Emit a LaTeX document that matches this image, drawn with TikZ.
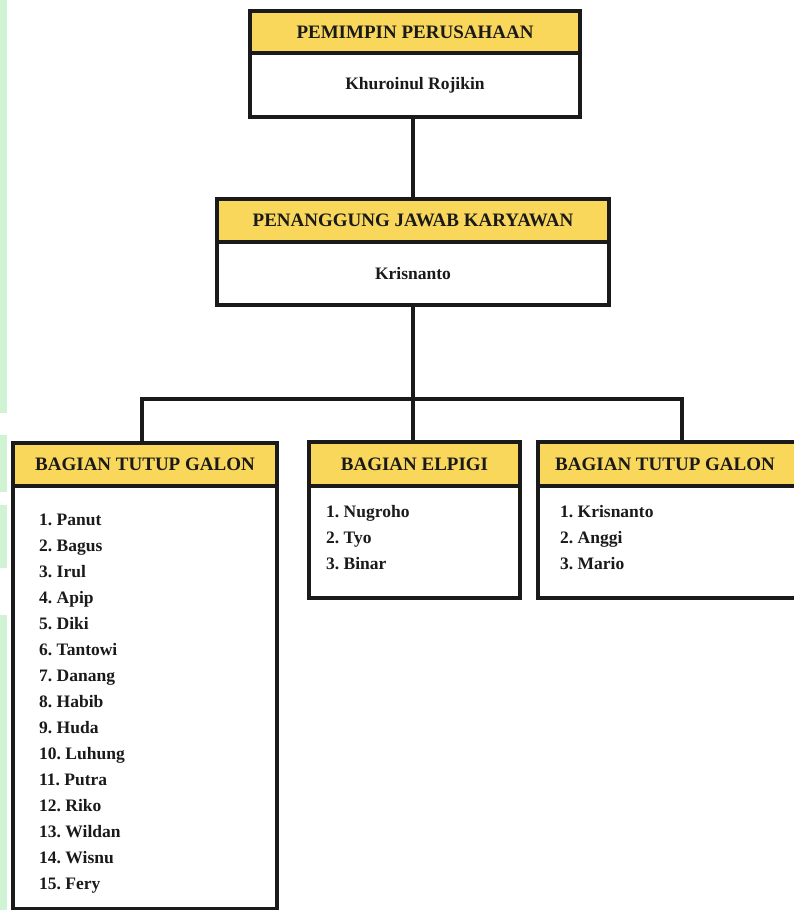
\documentclass[tikz,border=0pt]{standalone}
\usepackage{fontspec}
\setmainfont{Liberation Serif}[BoldFont={Liberation Serif Bold}]
\frenchspacing
\definecolor{hdryellow}{HTML}{F9D75B}
\definecolor{stripgreen}{HTML}{CFF3D3}
\definecolor{inkdark}{HTML}{1A1A1A}
\begin{document}
\begin{tikzpicture}[x=1pt,y=-1pt,
  boxline/.style={draw=inkdark,line width=3.4pt},
  hdr/.style={boxline,fill=hdryellow,rectangle,inner sep=0pt,text=inkdark,
    font=\fontsize{19}{22}\selectfont\bfseries},
  bodybox/.style={boxline,fill=white,rectangle,inner sep=0pt,text=inkdark,
    font=\fontsize{17.5}{22}\selectfont\bfseries},
  listtext/.style={anchor=north west,inner sep=0pt,align=left,text=inkdark,
    font=\fontsize{17.5}{26}\selectfont\bfseries},
  conn/.style={draw=inkdark,line width=3.4pt}]
\useasboundingbox (0,0) rectangle (793,910);
\fill[white] (0,0) rectangle (793,910);
% left green strip
\fill[stripgreen] (0,0) rectangle (7,413);
\fill[stripgreen] (0,435) rectangle (7,492);
\fill[stripgreen] (0,505) rectangle (7,568);
\fill[stripgreen] (0,615) rectangle (7,910);

% top box
\node[hdr,minimum width=330pt,minimum height=42pt] (h1) at (415,32) {PEMIMPIN PERUSAHAAN};
\node[bodybox,minimum width=330pt,minimum height=64pt] (b1) at (415,85) {Khuroinul Rojikin};
% second box
\node[hdr,minimum width=392pt,minimum height=43pt] (h2) at (413,220.5) {PENANGGUNG JAWAB KARYAWAN};
\node[bodybox,minimum width=392pt,minimum height=63pt] (b2) at (413,273.5) {Krisnanto};

% left box
\node[bodybox,minimum width=264pt,minimum height=423pt] (b3) at (145,697.5) {};
\node[hdr,minimum width=264pt,minimum height=43pt] (h3) at (145,464.5) {BAGIAN TUTUP GALON};
\node[listtext] (l3) at (39,514) {1. Panut\\2. Bagus\\3. Irul\\4. Apip\\5. Diki\\6. Tantowi\\7. Danang\\8. Habib\\9. Huda\\10. Luhung\\11. Putra\\12. Riko\\13. Wildan\\14. Wisnu\\15. Fery};

% middle box
\node[bodybox,minimum width=211pt,minimum height=112pt] (b4) at (414.5,542) {};
\node[hdr,minimum width=211pt,minimum height=44pt] (h4) at (414.5,464) {BAGIAN ELPIGI};
\node[listtext] (l4) at (326,505) {1. Nugroho\\2. Tyo\\3. Binar};

% right box (its right side runs past the picture's edge)
\node[bodybox,minimum width=260pt,minimum height=112pt] (b5) at (668,542) {};
\node[hdr,minimum width=260pt,minimum height=44pt] (h5) at (668,464) {};
\node[font=\fontsize{19}{22}\selectfont\bfseries,text=inkdark,inner sep=0pt] (t5) at (665,464) {BAGIAN TUTUP GALON};
\node[listtext] (l5) at (560,505) {1. Krisnanto\\2. Anggi\\3. Mario};

% connectors
\coordinate (busL) at (142,399);
\coordinate (busM) at (413,399);
\coordinate (busR) at (682,399);
\draw[conn] (b1.south -| busM) -- (h2.north -| busM);
\draw[conn] (b2.south -| busM) -- (h4.north -| busM);
\draw[conn,line cap=rect] (busL) -- (busR);
\draw[conn] (busL) -- (h3.north -| busL);
\draw[conn] (busR) -- (h5.north -| busR);
\end{tikzpicture}
\end{document}
